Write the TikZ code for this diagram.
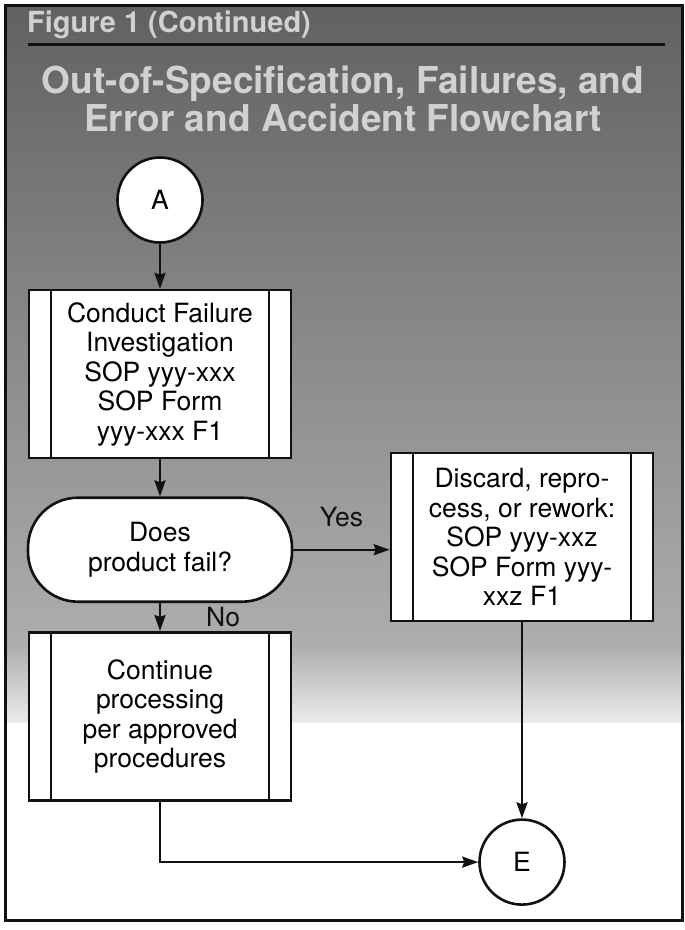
\documentclass[tikz,border=0pt]{standalone}
\usepackage{fontspec}
\setmainfont{TeX Gyre Heros}
\usepackage{tikz}
\usetikzlibrary{positioning,arrows.meta}
\definecolor{ink}      {HTML}{111111}
\definecolor{paper}    {HTML}{FFFFFF}
\colorlet{shadetop}{black!62}
\colorlet{shademid}{black!32}
\colorlet{shadelow}{black!8}
\colorlet{titlefill}{black!18}
\tikzset{
  >={Stealth[length=16pt,width=11pt,inset=2pt]},
  % --- nodes
  box/.style   = {draw=ink, fill=paper, line width=2.6pt, align=center, inner sep=0pt,
                  font=\fontsize{26.5pt}{29.5pt}\selectfont},
  proc/.style  = {box, minimum width=262pt, minimum height=168pt,
                  path picture={
                    \draw[ink, line width=2.6pt]
                      ([xshift=22pt]path picture bounding box.north west) --
                      ([xshift=22pt]path picture bounding box.south west)
                      ([xshift=-22pt]path picture bounding box.north east) --
                      ([xshift=-22pt]path picture bounding box.south east);}},
  dec/.style   = {box, rounded corners=50pt, minimum width=264pt, minimum height=104pt},
  conn/.style  = {box, circle, minimum size=85pt},
  lbl/.style   = {font=\fontsize{26.5pt}{29.5pt}\selectfont, text=ink, inner sep=0pt},
  figlbl/.style= {font=\fontsize{29pt}{30pt}\selectfont\bfseries, text=titlefill, inner sep=0pt},
  ttl/.style   = {font=\fontsize{37pt}{38pt}\selectfont\bfseries, text=titlefill,
                  align=center, inner sep=0pt},
  % --- edges
  flow/.style  = {->, line width=2.4pt, draw=ink},
}

\begin{document}
\begin{tikzpicture}[x=1pt, y=-1pt]
  \useasboundingbox (0,0) rectangle (685,930);
  % backdrop and frame
  \shade[top color=shadetop, bottom color=shademid] (5,5) rectangle (682,645);
  \shade[top color=shademid, bottom color=shadelow] (5,645) rectangle (682,722);
  \draw[ink, line width=3pt] (5,5) rectangle (682,920);
  % heading
  \node[figlbl, anchor=west] (fig) at (27,25) {Figure 1 (Continued)};
  \draw[ink, line width=3pt] (28,44) -- (665,44);
  \node[ttl] (title) at (343,99) {Out-of-Specification, Failures, and\\Error and Accident Flowchart};
  % chart
  \node[conn] (A) at (160,200) {A};
  \node[proc, below=45pt of A] (inv) {Conduct Failure\\Investigation\\SOP yyy-xxx\\SOP Form\\yyy-xxx F1};
  \node[dec, below=37pt of inv] (fail) {Does\\product fail?};
  \node[proc, below=28pt of fail] (cont) {Continue\\processing\\per approved\\procedures};
  \node[proc] (disc) at (522,537) {Discard, repro-\\cess, or rework:\\SOP yyy-xxz\\SOP Form yyy-\\xxz F1};
  \node[conn, below=196pt of disc] (E) {E};
  \draw[flow] (A) -- (inv);
  \draw[flow] (inv) -- (fail);
  \draw[flow] (fail) -- node[lbl, right=45pt] (no) {No} (cont);
  \draw[flow] (fail.east) -- node[lbl, above=22pt] (yes) {Yes} (fail.east -| disc.west);
  \draw[flow] (disc) -- (E);
  \draw[flow] (cont.south) |- (E);
\end{tikzpicture}
\end{document}
